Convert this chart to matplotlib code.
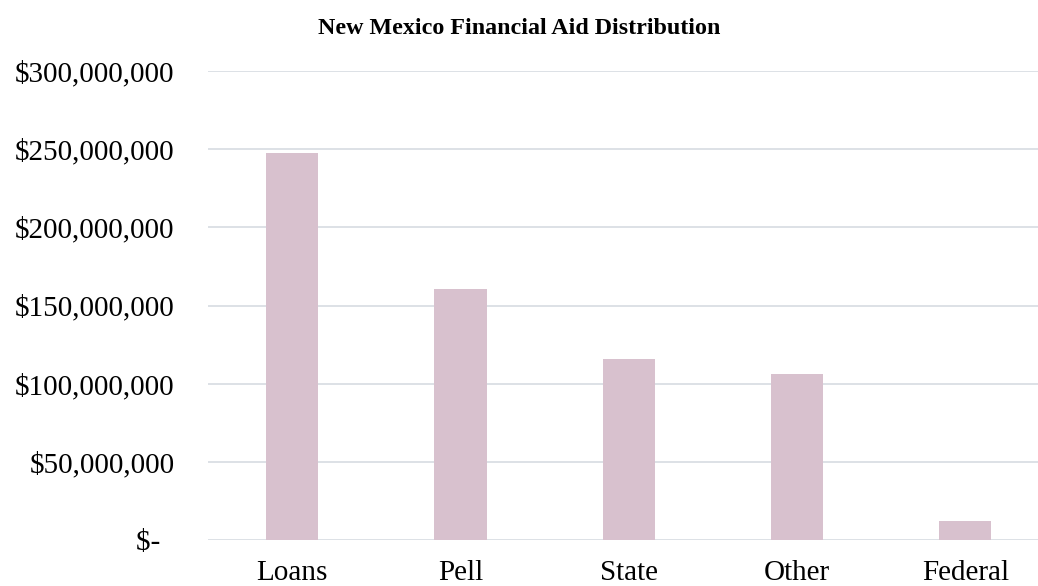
import matplotlib
matplotlib.use("Agg")
import matplotlib.pyplot as plt
from matplotlib.ticker import FuncFormatter

categories = ["Loans", "Pell", "State", "Other", "Federal"]
amounts = [247.5e6, 160.7e6, 115.7e6, 106.1e6, 12.1e6]
yticks = [0, 50e6, 100e6, 150e6, 200e6, 250e6, 300e6]

plt.rcParams["font.family"] = ["Liberation Serif", "DejaVu Serif"]

fig = plt.figure(figsize=(10.38, 5.86), dpi=100)
ax = fig.add_axes([208 / 1038, 46 / 586, 841.5 / 1038, 469 / 586])

ax.bar(range(len(categories)), amounts, width=0.31, color="#d8c1ce", zorder=3)
ax.set_xlim(-0.5, len(categories) - 0.5)
ax.set_ylim(0, 300e6)

def money(v, pos):
    # accounting style: zero shows as a dash
    if v == 0:
        return "$-  "
    return "${:,.0f}".format(v)

ax.set_yticks(yticks)
ax.yaxis.set_major_formatter(FuncFormatter(money))
ax.set_xticks(range(len(categories)))
ax.set_xticklabels(categories)
ax.yaxis.grid(True, color="#dde1e6", linewidth=1.4, zorder=0)
ax.tick_params(axis="both", length=0, labelsize=21)
ax.tick_params(axis="y", pad=24)
ax.tick_params(axis="x", pad=14.5)
for s in ax.spines.values():
    s.set_visible(False)

fig.text(0.5, 1 - 29 / 586, "New Mexico Financial Aid Distribution",
         ha="center", va="center", fontsize=17.3, fontweight="bold")

fig.savefig("out.png", dpi=100)
